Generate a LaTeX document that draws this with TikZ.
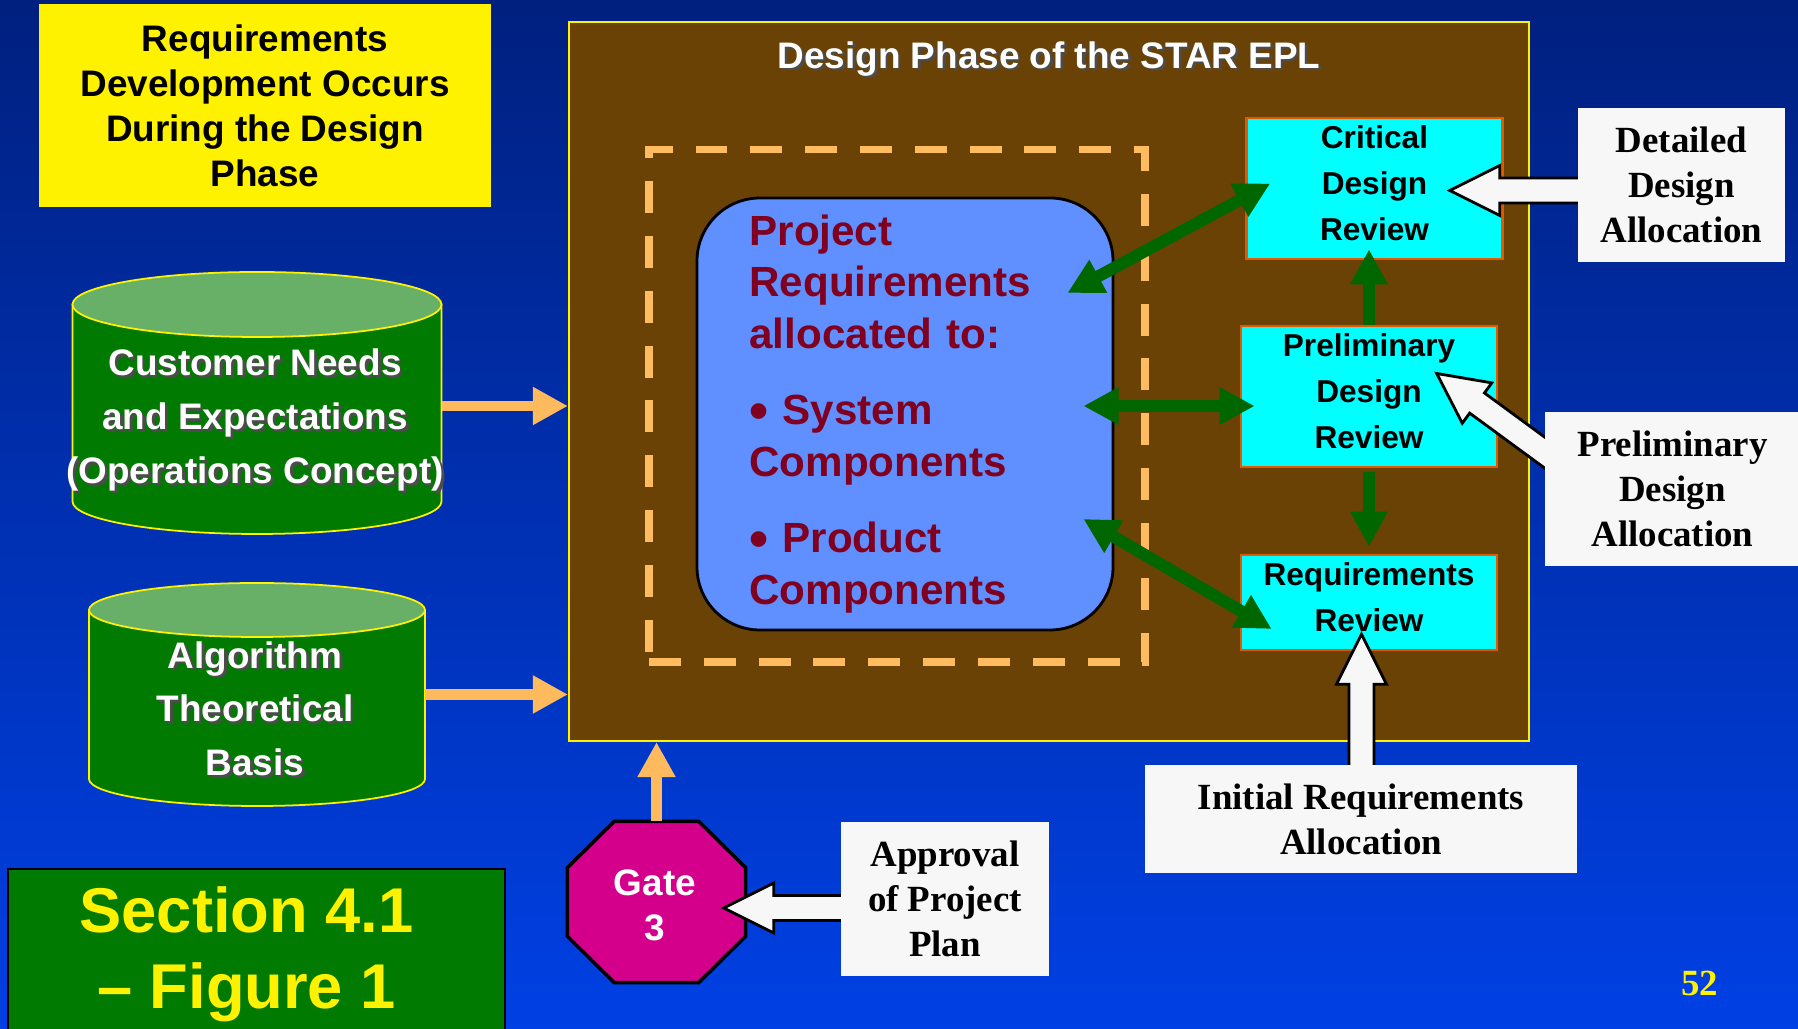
\documentclass[tikz,border=0pt]{standalone}
\usepackage{fontspec}
\setmainfont{Liberation Serif}
\setsansfont{Liberation Sans}
\usepackage{xcolor}
\usepackage{tikz}
\usetikzlibrary{positioning,arrows.meta,calc}
\pgfdeclarelayer{front}
\pgfsetlayers{main,front}
\definecolor{bgtop}{HTML}{00207F}
\definecolor{bgbot}{HTML}{0040E4}
\definecolor{phasebrown}{HTML}{6B4205}
\definecolor{dashorange}{HTML}{FFBB60}
\definecolor{projblue}{HTML}{6090FF}
\definecolor{projred}{HTML}{800020}
\definecolor{reviewcyan}{HTML}{00FFFF}
\definecolor{reviewedge}{HTML}{E05A00}
\definecolor{linkgreen}{HTML}{006600}
\definecolor{drumgreen}{HTML}{007A00}
\definecolor{drumtop}{HTML}{68B068}
\definecolor{feedorange}{HTML}{FFBA5E}
\definecolor{paper}{HTML}{F7F7F7}
\definecolor{gatepink}{HTML}{D4008C}
\newcommand{\shd}[1]{\makebox[0pt][l]{\hspace{0.8pt}\raisebox{-0.8pt}{\textcolor{black!70}{#1}}}#1}
\newcommand{\bigdot}{\raisebox{-1.3pt}{\fontsize{15.5}{14.8}\selectfont\textbullet}}
\newcommand{\drum}[3]{%
  \path[drumbody] ([yshift=-#3]#1.north west) -- ([yshift=#3]#1.south west)
    arc[start angle=180, end angle=360, x radius=#2, y radius=#3] -- ([yshift=-#3]#1.north east) -- cycle;
  \path[drumlid] ([yshift=-#3]#1.north) ellipse[x radius=#2, y radius=#3];}
\newcommand{\fatarrow}[2]{%
  \coordinate (fathead) at ($(#2)!0.5cm!(#1)$);
  \draw[fat] ($(#1)!0.125cm!90:(#2)$) -- ($(fathead)!0.125cm!90:(#2)$) -- ($(fathead)!0.25cm!90:(#2)$) -- (#2)
    -- ($(fathead)!0.25cm!-90:(#2)$) -- ($(fathead)!0.125cm!-90:(#2)$) -- ($(#1)!0.125cm!-90:(#2)$) -- cycle;}

\begin{document}
\begin{tikzpicture}[
  note/.style={fill=yellow, inner sep=0pt, align=center, font=\sffamily\bfseries\fontsize{10.5}{12.8}\selectfont},
  review/.style={draw=reviewedge, line width=0.7pt, fill=reviewcyan, inner sep=0pt, align=center, minimum width=2.56cm, text depth=0.1cm, font=\sffamily\bfseries\fontsize{9}{13.1}\selectfont},
  alloc/.style={fill=paper, inner sep=0pt, align=center, font=\rmfamily\bfseries\fontsize{10.5}{12.8}\selectfont},
  drum/.style={inner sep=0pt, outer sep=0pt},
  drumbody/.style={fill=drumgreen, draw=yellow, line width=0.5pt},
  drumlid/.style={fill=drumtop, draw=yellow, line width=0.5pt},
  drumtext/.style={text=white, align=center, font=\sffamily\bfseries\fontsize{10.5}{15.3}\selectfont},
  twoway/.style={linkgreen, line width=3.4pt, {Triangle[length=10pt,width=10pt]}-{Triangle[length=10pt,width=10pt]}},
  oneway/.style={linkgreen, line width=3.4pt, -{Triangle[length=10pt,width=10pt]}},
  feed/.style={feedorange, line width=3.1pt, -{Triangle[length=10pt,width=10.2pt]}},
  fat/.style={draw=black, fill=paper, line width=0.8pt, line join=miter}]
\shade[top color=bgtop, bottom color=bgbot] (0,0) rectangle (17.98,-10.29);
\useasboundingbox (0,0) rectangle (17.98,-10.29);

\node[note, minimum width=4.51cm, minimum height=2.03cm] (devnote) at (2.65,-1.06) {Requirements\\Development Occurs\\During the Design\\Phase};

% design phase
\node[draw=yellow, line width=0.6pt, fill=phasebrown, inner sep=0pt, minimum width=9.6cm, minimum height=7.19cm] (phase) at (10.49,-3.815) {};
\node[text=white, font=\sffamily\bfseries\fontsize{10.5}{12}\selectfont] (title) at (10.49,-0.6) {\shd{Design Phase of the STAR EPL}};
\node[draw=dashorange, line width=2pt, dash pattern=on 9.1pt off 6.5pt, minimum width=4.96cm, minimum height=5.12cm] (frame) at (8.97,-4.06) {};
\node[draw=black, line width=0.8pt, fill=projblue, rounded corners=0.63cm, inner sep=0pt, minimum width=4.16cm, minimum height=4.32cm, text width=3.11cm, align=left, text=projred, font=\sffamily\bfseries\fontsize{12}{14.7}\selectfont] (proj) at (9.05,-4.14)
  {Project\\Requirements\\allocated to:\\[7pt]\bigdot\ System\\Components\\[7pt]\bigdot\ Product\\Components};

\node[review, minimum height=1.41cm] (cdr) at (13.745,-1.885) {Critical\\Design\\Review};
\node[review, minimum height=1.41cm] (pdr) at (13.69,-3.965) {Preliminary\\Design\\Review};
\node[review, minimum height=0.95cm] (rr) at (13.69,-6.025) {Requirements\\Review};

\draw[twoway] ([xshift=-0.47cm,yshift=1.21cm]proj.east) -- ([xshift=0.25cm,yshift=0.05cm]cdr.west);
\draw[twoway] ([xshift=-0.31cm,yshift=0.08cm]proj.east) -- ([xshift=0.15cm,yshift=-0.095cm]pdr.west);
\draw[twoway] ([xshift=-0.31cm,yshift=-1.05cm]proj.east) -- ([xshift=0.32cm,yshift=-0.265cm]rr.west);
\draw[oneway, shorten >=-0.11cm] (pdr.north) -- (pdr.north |- cdr.south);
\draw[oneway] ([yshift=-0.04cm]pdr.south) -- ([yshift=0.07cm]rr.north);

% inputs
\node[drum, minimum width=3.69cm, minimum height=2.62cm] (cust) at (2.57,-4.03) {};
\drum{cust}{1.845cm}{0.325cm}
\node[drumtext] (custtext) at (2.55,-4.215) {\shd{Customer Needs}\\\shd{and Expectations}\\\shd{(Operations Concept)}};
\node[drum, minimum width=3.36cm, minimum height=2.23cm] (algo) at (2.57,-6.945) {};
\drum{algo}{1.68cm}{0.27cm}
\node[drumtext] (algotext) at (2.55,-7.1) {\shd{Algorithm}\\\shd{Theoretical}\\\shd{Basis}};
\draw[feed] ([yshift=-0.03cm]cust.east) -- ([yshift=-0.03cm]cust.east -| phase.west);
\draw[feed] (algo.east) -- (algo.east -| phase.west);

% gate
\node[inner sep=0pt, minimum width=1.77cm, minimum height=1.6cm] (gate) at (6.565,-9.02) {};
\draw[fill=gatepink, draw=black, line width=1pt] ([xshift=0.47cm]gate.north west) -- ([xshift=-0.47cm]gate.north east)
  -- ([yshift=-0.465cm]gate.north east) -- ([yshift=0.465cm]gate.south east) -- ([xshift=-0.47cm]gate.south east)
  -- ([xshift=0.47cm]gate.south west) -- ([yshift=0.465cm]gate.south west) -- ([yshift=-0.465cm]gate.north west) -- cycle;
\node[text=white, align=center, font=\sffamily\bfseries\fontsize{10.5}{12.8}\selectfont] (gatetext) at (6.55,-9.05) {Gate\\3};
\draw[feed] (gate.north) -- (gate.north |- phase.south);

% allocations
\begin{pgfonlayer}{front}
\node[alloc, minimum width=2.07cm, minimum height=1.54cm] (dda) at (16.815,-1.85) {Detailed\\Design\\Allocation};
\node[alloc, minimum width=2.55cm, minimum height=1.54cm] (pda) at (16.725,-4.89) {Preliminary\\Design\\Allocation};
\node[alloc, minimum width=2.075cm, minimum height=1.54cm] (appr) at (9.45,-8.99) {Approval\\of Project\\Plan};
\node[alloc, minimum width=4.32cm, minimum height=1.08cm] (ira) at (13.61,-8.19) {Initial Requirements\\Allocation};
\end{pgfonlayer}
\coordinate (ddatip) at ([xshift=-0.54cm,yshift=-0.02cm]cdr.east);
\coordinate (ddatail) at (ddatip -| dda.center);
\fatarrow{ddatail}{ddatip}
\coordinate (pdatip) at ([xshift=-0.615cm,yshift=0.23cm]pdr.east);
\coordinate (pdatail) at ([xshift=0.5cm]pda.west);
\fatarrow{pdatail}{pdatip}
\coordinate (apprtip) at ([xshift=-0.22cm,yshift=-0.06cm]gate.east);
\coordinate (apprtail) at (apprtip -| appr.center);
\fatarrow{apprtail}{apprtip}
\coordinate (iratip) at ([xshift=-0.075cm,yshift=0.17cm]rr.south);
\coordinate (iratail) at (iratip |- ira.center);
\fatarrow{iratail}{iratip}

\node[draw=black, line width=0.8pt, fill=drumgreen, inner sep=0pt, minimum width=4.97cm, minimum height=1.71cm, text=yellow, align=center, font=\sffamily\bfseries\fontsize{18}{21.6}\selectfont] (section) at (2.565,-9.545) {Section 4.1\hspace*{0.2cm}\\– Figure 1\hspace*{0.2cm}};
\node[text=yellow, font=\rmfamily\bfseries\fontsize{10.5}{12}\selectfont, anchor=base] (slide) at (16.995,-9.96) {52};
\end{tikzpicture}
\end{document}
